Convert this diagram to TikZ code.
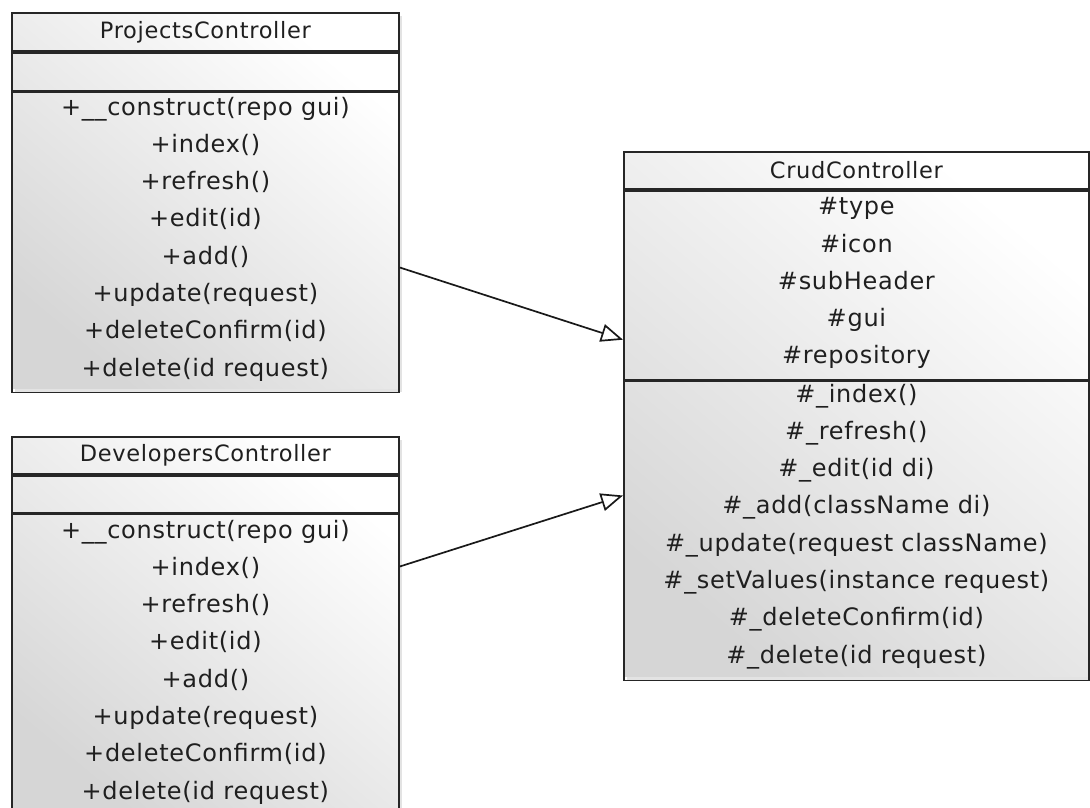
\documentclass[tikz,border=0pt]{standalone}
\usepackage{fontspec}
\setmainfont{DejaVu Sans}[LetterSpace=3]
\usetikzlibrary{arrows.meta,shadows}
\begin{document}
\begin{tikzpicture}[x=1pt,y=-1pt,
  boxbg/.style={shade, top color=white, bottom color=black!16, shading angle=-40,
    drop shadow={opacity=0.22, shadow xshift=4pt, shadow yshift=-4pt},
    anchor=north west, inner sep=0pt},
  part/.style={draw=black!85, line width=1.8pt, anchor=north west, inner sep=0pt,
    align=center, text=black!88, font=\fontsize{24pt}{37.3pt}\selectfont},
  title/.style={part, font=\fontsize{22.5pt}{27pt}\selectfont},
  inh/.style={line width=1.7pt, draw=black!90, -{Triangle[open, length=22pt, width=18pt]}}]
\path[use as bounding box, clip] (0,0) rectangle (1090,808);
\fill[white] (0,0) rectangle (1090,808);

% ProjectsController
\node[boxbg, minimum width=387pt, minimum height=376pt] (pbox) at (11,12) {};
\node[title, minimum width=387pt, minimum height=38pt] (pt) at (pbox.north west) {ProjectsController};
\node[part, minimum width=387pt, minimum height=38pt] (pa) at (pt.south west) {};
\node[part, minimum width=387pt, minimum height=300pt, text depth=12pt] (pm) at (pa.south west)
  {+\_\_construct(repo gui)\\+index()\\+refresh()\\+edit(id)\\+add()\\+update(request)\\+deleteConfirm(id)\\+delete(id request)};

% DevelopersController
\node[boxbg, minimum width=387pt, minimum height=376pt] (dbox) at (11,436) {};
\node[title, minimum width=387pt, minimum height=37pt] (dt) at (dbox.north west) {DevelopersController};
\node[part, minimum width=387pt, minimum height=37pt] (da) at (dt.south west) {};
\node[part, minimum width=387pt, minimum height=302pt, text depth=12pt] (dm) at (da.south west)
  {+\_\_construct(repo gui)\\+index()\\+refresh()\\+edit(id)\\+add()\\+update(request)\\+deleteConfirm(id)\\+delete(id request)};

% CrudController
\node[boxbg, minimum width=465pt, minimum height=525pt] (cbox) at (623,151) {};
\node[title, minimum width=465pt, minimum height=37pt] (ct) at (cbox.north west) {CrudController};
\node[part, minimum width=465pt, minimum height=189pt, text depth=9pt] (ca) at (ct.south west)
  {\#type\\\#icon\\\#subHeader\\\#gui\\\#repository};
\node[part, minimum width=465pt, minimum height=299pt, text depth=15pt] (cm) at (ca.south west)
  {\#\_index()\\\#\_refresh()\\\#\_edit(id di)\\\#\_add(className di)\\\#\_update(request className)\\\#\_setValues(instance request)\\\#\_deleteConfirm(id)\\\#\_delete(id request)};

% Generalizations
\draw[inh] ([yshift=-25pt]pm.east) -- ([yshift=-54.5pt]ca.west);
\draw[inh] ([yshift=99pt]dm.east) -- ([yshift=35.5pt]cm.west);
\end{tikzpicture}
\end{document}
